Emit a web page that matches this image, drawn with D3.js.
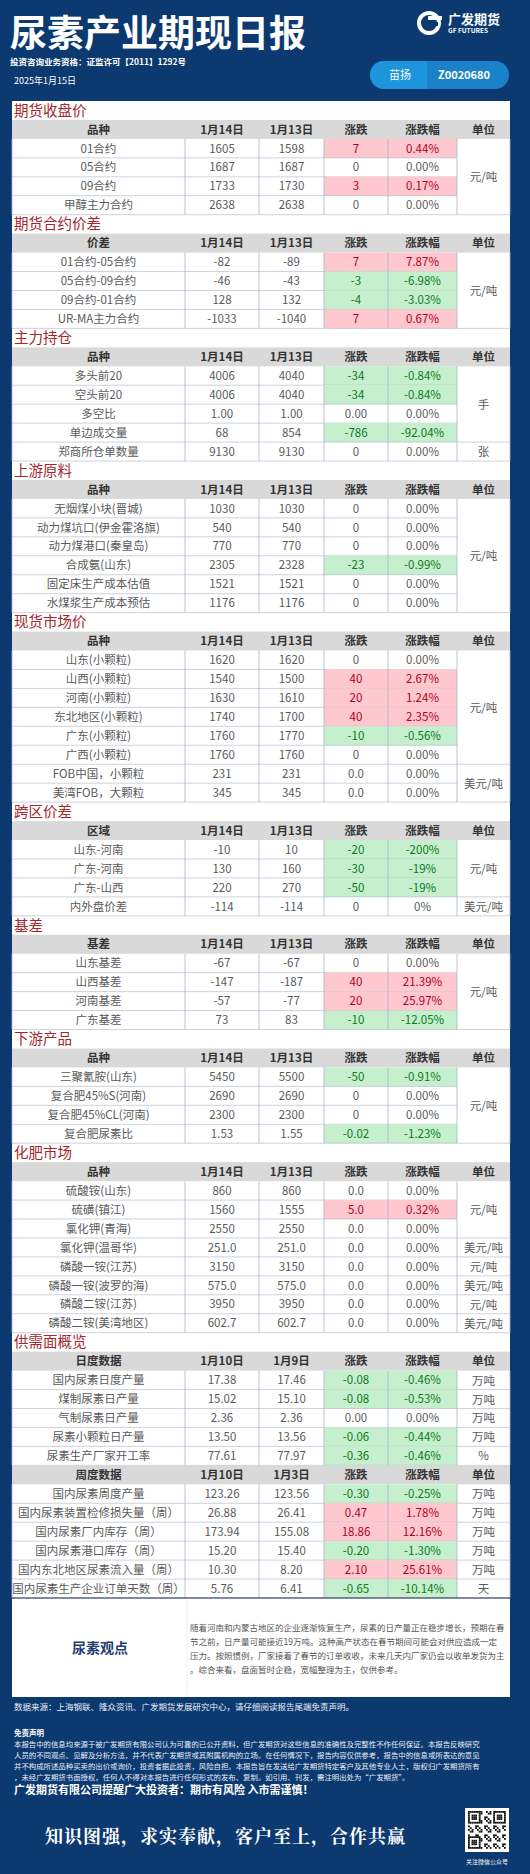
<!DOCTYPE html>
<html><head><meta charset="utf-8">
<script src="https://cdn.jsdelivr.net/npm/d3@7"></script>
<style>body{margin:0;background:#0c3a70}svg{display:block}text{font-family:"Noto Sans CJK SC","Noto Sans",sans-serif}</style>
</head><body><div id="root"></div>
<script>
// ---- data ----
const s1Names = ['01合约', '05合约', '09合约', '甲醇主力合约']
const s1D1 = ['1605', '1687', '1733', '2638']
const s1D2 = ['1598', '1687', '1730', '2638']
const s1Chg = ['7', '0', '3', '0']
const s1Pct = ['0.44%', '0.00%', '0.17%', '0.00%']
const s1Flag = ['r', '', 'r', '']
const s1Units = [['元/吨', 4]]

const s2Names = ['01合约-05合约', '05合约-09合约', '09合约-01合约', 'UR-MA主力合约']
const s2D1 = ['-82', '-46', '128', '-1033']
const s2D2 = ['-89', '-43', '132', '-1040']
const s2Chg = ['7', '-3', '-4', '7']
const s2Pct = ['7.87%', '-6.98%', '-3.03%', '0.67%']
const s2Flag = ['r', 'g', 'g', 'r']
const s2Units = [['元/吨', 4]]

const s3Names = ['多头前20', '空头前20', '多空比', '单边成交量', '郑商所仓单数量']
const s3D1 = ['4006', '4006', '1.00', '68', '9130']
const s3D2 = ['4040', '4040', '1.00', '854', '9130']
const s3Chg = ['-34', '-34', '0.00', '-786', '0']
const s3Pct = ['-0.84%', '-0.84%', '0.00%', '-92.04%', '0.00%']
const s3Flag = ['g', 'g', '', 'g', '']
const s3Units = [['手', 4], ['张', 1]]

const s4Names = ['无烟煤小块(晋城)', '动力煤坑口(伊金霍洛旗)', '动力煤港口(秦皇岛)', '合成氨(山东)', '固定床生产成本估值', '水煤浆生产成本预估']
const s4D1 = ['1030', '540', '770', '2305', '1521', '1176']
const s4D2 = ['1030', '540', '770', '2328', '1521', '1176']
const s4Chg = ['0', '0', '0', '-23', '0', '0']
const s4Pct = ['0.00%', '0.00%', '0.00%', '-0.99%', '0.00%', '0.00%']
const s4Flag = ['', '', '', 'g', '', '']
const s4Units = [['元/吨', 6]]

const s5Names = ['山东(小颗粒)', '山西(小颗粒)', '河南(小颗粒)', '东北地区(小颗粒)', '广东(小颗粒)', '广西(小颗粒)', 'FOB中国，小颗粒', '美湾FOB，大颗粒']
const s5D1 = ['1620', '1540', '1630', '1740', '1760', '1760', '231', '345']
const s5D2 = ['1620', '1500', '1610', '1700', '1770', '1760', '231', '345']
const s5Chg = ['0', '40', '20', '40', '-10', '0', '0.0', '0.0']
const s5Pct = ['0.00%', '2.67%', '1.24%', '2.35%', '-0.56%', '0.00%', '0.00%', '0.00%']
const s5Flag = ['', 'r', 'r', 'r', 'g', '', '', '']
const s5Units = [['元/吨', 6], ['美元/吨', 2]]

const s6Names = ['山东-河南', '广东-河南', '广东-山西', '内外盘价差']
const s6D1 = ['-10', '130', '220', '-114']
const s6D2 = ['10', '160', '270', '-114']
const s6Chg = ['-20', '-30', '-50', '0']
const s6Pct = ['-200%', '-19%', '-19%', '0%']
const s6Flag = ['g', 'g', 'g', '']
const s6Units = [['元/吨', 3], ['美元/吨', 1]]

const s7Names = ['山东基差', '山西基差', '河南基差', '广东基差']
const s7D1 = ['-67', '-147', '-57', '73']
const s7D2 = ['-67', '-187', '-77', '83']
const s7Chg = ['0', '40', '20', '-10']
const s7Pct = ['0.00%', '21.39%', '25.97%', '-12.05%']
const s7Flag = ['', 'r', 'r', 'g']
const s7Units = [['元/吨', 4]]

const s8Names = ['三聚氰胺(山东)', '复合肥45%S(河南)', '复合肥45%CL(河南)', '复合肥尿素比']
const s8D1 = ['5450', '2690', '2300', '1.53']
const s8D2 = ['5500', '2690', '2300', '1.55']
const s8Chg = ['-50', '0', '0', '-0.02']
const s8Pct = ['-0.91%', '0.00%', '0.00%', '-1.23%']
const s8Flag = ['g', '', '', 'g']
const s8Units = [['元/吨', 4]]

const s9Names = ['硫酸铵(山东)', '硫磺(镇江)', '氯化钾(青海)', '氯化钾(温哥华)', '磷酸一铵(江苏)', '磷酸一铵(波罗的海)', '磷酸二铵(江苏)', '磷酸二铵(美湾地区)']
const s9D1 = ['860', '1560', '2550', '251.0', '3150', '575.0', '3950', '602.7']
const s9D2 = ['860', '1555', '2550', '251.0', '3150', '575.0', '3950', '602.7']
const s9Chg = ['0.0', '5.0', '0.0', '0.0', '0.0', '0.0', '0.0', '0.0']
const s9Pct = ['0.00%', '0.32%', '0.00%', '0.00%', '0.00%', '0.00%', '0.00%', '0.00%']
const s9Flag = ['', 'r', '', '', '', '', '', '']
const s9Units = [['元/吨', 3], ['美元/吨', 1], ['元/吨', 1], ['美元/吨', 1], ['元/吨', 1], ['美元/吨', 1]]

const dayNames = ['国内尿素日度产量', '煤制尿素日产量', '气制尿素日产量', '尿素小颗粒日产量', '尿素生产厂家开工率']
const dayD1 = ['17.38', '15.02', '2.36', '13.50', '77.61']
const dayD2 = ['17.46', '15.10', '2.36', '13.56', '77.97']
const dayChg = ['-0.08', '-0.08', '0.00', '-0.06', '-0.36']
const dayPct = ['-0.46%', '-0.53%', '0.00%', '-0.44%', '-0.46%']
const dayFlag = ['g', 'g', '', 'g', 'g']
const dayUnits = [['万吨', 1], ['万吨', 1], ['万吨', 1], ['万吨', 1], ['%', 1]]

const wkNames = ['国内尿素周度产量', '国内尿素装置检修损失量（周）', '国内尿素厂内库存（周）', '国内尿素港口库存（周）', '国内东北地区尿素流入量（周）', '国内尿素生产企业订单天数（周）']
const wkD1 = ['123.26', '26.88', '173.94', '15.20', '10.30', '5.76']
const wkD2 = ['123.56', '26.41', '155.08', '15.40', '8.20', '6.41']
const wkChg = ['-0.30', '0.47', '18.86', '-0.20', '2.10', '-0.65']
const wkPct = ['-0.25%', '1.78%', '12.16%', '-1.30%', '25.61%', '-10.14%']
const wkFlag = ['g', 'r', 'r', 'g', 'r', 'g']
const wkUnits = [['万吨', 1], ['万吨', 1], ['万吨', 1], ['万吨', 1], ['万吨', 1], ['天', 1]]

const hdrA = ['品种', '1月14日', '1月13日', '涨跌', '涨跌幅', '单位']

const blocks = [
  { title: '期货收盘价', hdr: hdrA, n: s1Names, a: s1D1, b: s1D2, c: s1Chg, p: s1Pct, f: s1Flag, u: s1Units },
  { title: '期货合约价差', hdr: ['价差', ...hdrA.slice(1)], n: s2Names, a: s2D1, b: s2D2, c: s2Chg, p: s2Pct, f: s2Flag, u: s2Units },
  { title: '主力持仓', hdr: hdrA, n: s3Names, a: s3D1, b: s3D2, c: s3Chg, p: s3Pct, f: s3Flag, u: s3Units },
  { title: '上游原料', hdr: hdrA, n: s4Names, a: s4D1, b: s4D2, c: s4Chg, p: s4Pct, f: s4Flag, u: s4Units },
  { title: '现货市场价', hdr: hdrA, n: s5Names, a: s5D1, b: s5D2, c: s5Chg, p: s5Pct, f: s5Flag, u: s5Units },
  { title: '跨区价差', hdr: ['区域', ...hdrA.slice(1)], n: s6Names, a: s6D1, b: s6D2, c: s6Chg, p: s6Pct, f: s6Flag, u: s6Units },
  { title: '基差', hdr: ['基差', ...hdrA.slice(1)], n: s7Names, a: s7D1, b: s7D2, c: s7Chg, p: s7Pct, f: s7Flag, u: s7Units },
  { title: '下游产品', hdr: hdrA, n: s8Names, a: s8D1, b: s8D2, c: s8Chg, p: s8Pct, f: s8Flag, u: s8Units },
  { title: '化肥市场', hdr: hdrA, n: s9Names, a: s9D1, b: s9D2, c: s9Chg, p: s9Pct, f: s9Flag, u: s9Units },
  { title: '供需面概览', hdr: ['日度数据', '1月10日', '1月9日', '涨跌', '涨跌幅', '单位'], n: dayNames, a: dayD1, b: dayD2, c: dayChg, p: dayPct, f: dayFlag, u: dayUnits },
  { title: null, hdr: ['周度数据', '1月10日', '1月3日', '涨跌', '涨跌幅', '单位'], n: wkNames, a: wkD1, b: wkD2, c: wkChg, p: wkPct, f: wkFlag, u: wkUnits }
]

const opinion = '随着河南和内蒙古地区的企业逐渐恢复生产，尿素的日产量正在稳步增长，预期在春节之前，日产量可能接近19万吨。这种高产状态在春节期间可能会对供应造成一定压力。按照惯例，厂家接着了春节的订单收收，未来几天内厂家仍会以收单发货为主。综合来看，盘面暂时企稳，宽幅整理为主，仅供参考。'
const disclaimer = '本报告中的信息均来源于被广发期货有限公司认为可靠的已公开资料，但广发期货对这些信息的准确性及完整性不作任何保证。本报告反映研究人员的不同观点、见解及分析方法，并不代表广发期货或其附属机构的立场。在任何情况下，报告内容仅供参考，报告中的信息或所表达的意见并不构成所述品种买卖的出价或询价，投资者据此投资，风险自担。本报告旨在发送给广发期货特定客户及其他专业人士，版权归广发期货所有，未经广发期货书面授权，任何人不得对本报告进行任何形式的发布、复制。如引用、刊发，需注明出处为“广发期货”。'

// ---- layout ----
const W = 530, H = 1874
const navy = '#0c3a70'
const cols = [12, 185, 259, 324, 388, 457, 510]
const colMid = i => (cols[i] + cols[i + 1]) / 2
const totalUnits = d3.sum(blocks, b => (b.title ? 1 : 0) + 1 + b.n.length)
const y = d3.scaleLinear().domain([0, totalUnits]).range([101, 1598])

const svg = d3.select('#root').append('svg').attr('width', W).attr('height', H)
svg.append('rect').attr('width', W).attr('height', H).attr('fill', navy)

// header
svg.append('text').attr('x', 10).attr('y', 47).attr('fill', '#fff')
  .style('font-size', '37px').style('font-weight', 'bold').text('尿素产业期现日报')
svg.append('text').attr('x', 10).attr('y', 65).attr('fill', '#fff')
  .style('font-size', '8.5px').style('font-weight', 'bold').text('投资咨询业务资格：证监许可【2011】1292号')
svg.append('text').attr('x', 14).attr('y', 84).attr('fill', '#fff')
  .style('font-size', '9px').text('2025年1月15日')
// logo
const logo = svg.append('g').attr('transform', 'translate(418,12)')
logo.append('circle').attr('cx', 11).attr('cy', 11).attr('r', 10).attr('fill', 'none').attr('stroke', '#fff').attr('stroke-width', 4)
logo.append('rect').attr('x', 10).attr('y', 4).attr('width', 14).attr('height', 4).attr('fill', '#fff')
logo.append('rect').attr('x', 10).attr('y', 10).attr('width', 10).attr('height', 4).attr('fill', navy)
logo.append('text').attr('x', 30).attr('y', 12).attr('fill', '#fff').style('font-size', '13px').style('font-weight', 'bold').text('广发期货')
logo.append('text').attr('x', 30).attr('y', 21).attr('fill', '#fff').style('font-size', '6.5px').style('font-weight', 'bold').text('GF FUTURES')
// pill
svg.append('rect').attr('x', 370).attr('y', 61).attr('width', 139).attr('height', 28).attr('rx', 14).attr('fill', '#1a82c8')
svg.append('path').attr('d', 'M384,61 H427 V89 H384 A14,14 0 0 1 384,61 Z').attr('fill', '#1c95dc')
svg.append('text').attr('x', 400).attr('y', 79).attr('text-anchor', 'middle').attr('fill', '#fff').style('font-size', '11px').text('苗扬')
svg.append('text').attr('x', 464).attr('y', 79).attr('text-anchor', 'middle').attr('fill', '#fff').style('font-size', '11px').style('font-weight', 'bold').text('Z0020680')

// white panel
svg.append('rect').attr('x', 12).attr('y', 101).attr('width', 498).attr('height', 1596).attr('fill', '#fff')

const fill = { r: '#ffc7ce', g: '#c6efce' }
const ink = { r: '#b0001f', g: '#0a7a1a', '': '#5a5a5a' }
const lineCol = '#aab4c8'

let u = 0
blocks.forEach(b => {
  const g = svg.append('g')
  if (b.title) {
    g.append('text').attr('x', 14).attr('y', y(u + 0.78)).attr('fill', '#a3272b')
      .style('font-size', '14.5px').text(b.title)
    u += 1
  }
  // header row
  g.append('rect').attr('x', cols[0]).attr('y', y(u)).attr('width', cols[6] - cols[0]).attr('height', y(u + 1) - y(u)).attr('fill', '#d9d9d9')
  b.hdr.forEach((h, i) => g.append('text').attr('x', colMid(i)).attr('y', y(u + 0.72)).attr('text-anchor', 'middle')
    .attr('fill', '#333').style('font-size', '11.5px').style('font-weight', 'bold').text(h))
  u += 1
  const top = u
  b.n.forEach((name, r) => {
    const y0 = y(u), y1 = y(u + 1), ty = y(u + 0.72)
    if (b.f[r]) {
      g.append('rect').attr('x', cols[3]).attr('y', y0).attr('width', cols[5] - cols[3]).attr('height', y1 - y0).attr('fill', fill[b.f[r]])
    }
    const vals = [name, b.a[r], b.b[r], b.c[r], b.p[r]]
    vals.forEach((v, i) => g.append('text').attr('x', colMid(i)).attr('y', ty).attr('text-anchor', 'middle')
      .attr('fill', i >= 3 ? ink[b.f[r]] : '#5a5a5a').style('font-size', '11.5px').text(v))
    g.append('line').attr('x1', cols[0]).attr('x2', cols[5]).attr('y1', y1).attr('y2', y1).attr('stroke', lineCol).attr('stroke-width', 0.6)
    u += 1
  })
  // unit merged cells
  let k = top
  b.u.forEach(([label, span]) => {
    g.append('text').attr('x', colMid(5)).attr('y', y(k + span / 2) + 4.5).attr('text-anchor', 'middle')
      .attr('fill', '#5a5a5a').style('font-size', '11.5px').text(label)
    k += span
    g.append('line').attr('x1', cols[5]).attr('x2', cols[6]).attr('y1', y(k)).attr('y2', y(k)).attr('stroke', lineCol).attr('stroke-width', 0.6)
  })
  cols.forEach(cx => g.append('line').attr('x1', cx).attr('x2', cx).attr('y1', y(top)).attr('y2', y(u))
    .attr('stroke', lineCol).attr('stroke-width', 0.8))
})
svg.append('line').attr('x1', 12).attr('x2', 510).attr('y1', y(totalUnits)).attr('y2', y(totalUnits)).attr('stroke', '#1b2d55').attr('stroke-width', 1.2)

// opinion
svg.append('line').attr('x1', 187).attr('x2', 187).attr('y1', 1600).attr('y2', 1695).attr('stroke', '#eef1f6')
svg.append('text').attr('x', 100).attr('y', 1653).attr('text-anchor', 'middle').attr('fill', '#1f3d73')
  .style('font-size', '14px').style('font-weight', 'bold').text('尿素观点')
function wrap (sel, str, x, y0, perLine, lh, size, color, weight) {
  for (let i = 0, ln = 0; i < str.length; i += perLine, ln++) {
    sel.append('text').attr('x', x).attr('y', y0 + ln * lh).attr('fill', color)
      .style('font-size', size + 'px').style('font-weight', weight || 'normal').text(str.slice(i, i + perLine))
  }
}
wrap(svg, opinion, 190, 1631, 37, 14, 8.5, '#555')

// footer
svg.append('text').attr('x', 14).attr('y', 1710).attr('fill', '#e8eef8').style('font-size', '8.5px')
  .text('数据来源：上海钢联、隆众资讯、广发期货发展研究中心，请仔细阅读报告尾端免责声明。')
svg.append('text').attr('x', 14).attr('y', 1736).attr('fill', '#fff').style('font-size', '7.5px').style('font-weight', 'bold').text('免责声明')
wrap(svg, disclaimer, 14, 1747, 63, 11, 7.4, '#e8eef8')
svg.append('text').attr('x', 14).attr('y', 1794).attr('fill', '#fff').style('font-size', '11px').style('font-weight', 'bold')
  .text('广发期货有限公司提醒广大投资者：期市有风险 入市需谨慎！')
svg.append('text').attr('x', 45).attr('y', 1843).attr('fill', '#fff').style('font-size', '18px').style('font-weight', 'bold')
  .style('font-family', '"Noto Serif CJK SC","Noto Sans CJK SC",serif').style('letter-spacing', '1px')
  .text('知识图强，求实奉献，客户至上，合作共赢')
// qr code (decorative)
const qr = svg.append('g').attr('transform', 'translate(465,1808)')
qr.append('rect').attr('width', 44).attr('height', 44).attr('fill', '#fff')
const cell = 1.8
for (let i = 0; i < 21; i++) {
  for (let j = 0; j < 21; j++) {
    const finder = (i < 7 && j < 7) || (i < 7 && j > 13) || (i > 13 && j < 7)
    let on
    if (finder) {
      const a = i > 13 ? i - 14 : i, c = j > 13 ? j - 14 : j
      on = a === 0 || a === 6 || c === 0 || c === 6 || (a >= 2 && a <= 4 && c >= 2 && c <= 4)
    } else on = ((i * 7 + j * 13 + i * j) % 5) < 2
    if (on) qr.append('rect').attr('x', 3 + j * cell).attr('y', 3 + i * cell).attr('width', cell).attr('height', cell).attr('fill', '#111')
  }
}
svg.append('text').attr('x', 487).attr('y', 1864).attr('text-anchor', 'middle').attr('fill', '#fff').style('font-size', '6px').text('关注微信公众号')
</script></body></html>
